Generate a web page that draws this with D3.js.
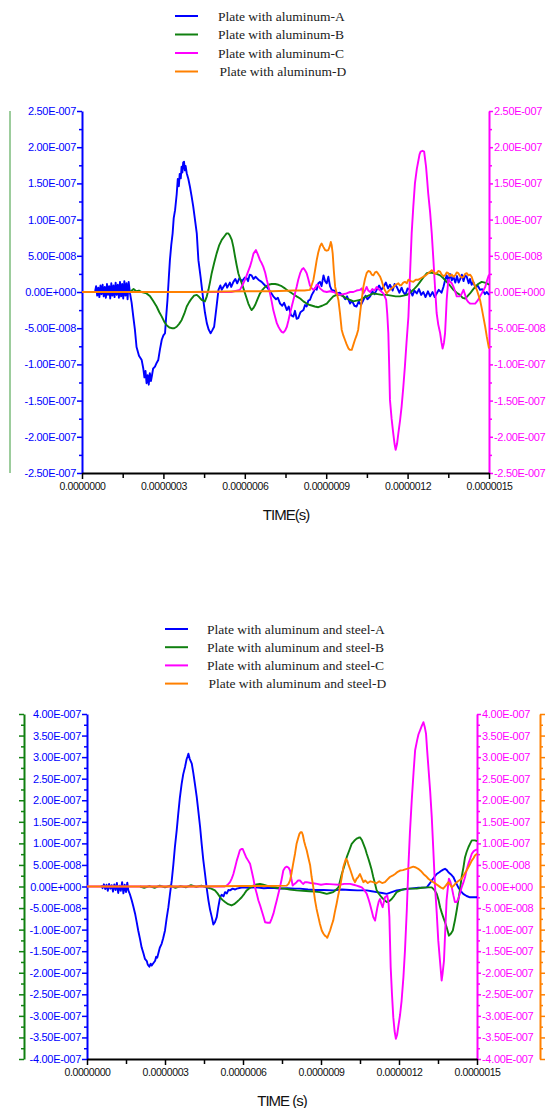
<!DOCTYPE html>
<html>
<head>
<meta charset="utf-8">
<script src="https://cdn.jsdelivr.net/npm/d3@7"></script>
<style>
  body { margin: 0; background: #fff; }
  svg text { font-family: Arial, "Liberation Sans", sans-serif; }
  svg text.legend { font-family: "Times New Roman", "Liberation Serif", serif; }
</style>
</head>
<body>
<svg id="chart" width="550" height="1108"></svg>
<script>
// time in units of 1e-7 s, amplitude in units of 1e-8
const T_UNIT = 1e-7;
const V_UNIT = 1e-8;

const xTickVals = [0, 3, 6, 9, 12, 15];
const xMinorVals = [1.5, 4.5, 7.5, 10.5, 13.5];
const yTicksTop = [-25, -20, -15, -10, -5, 0, 5, 10, 15, 20, 25];
const yTicksBottom = [-40, -35, -30, -25, -20, -15, -10, -5, 0, 5, 10, 15, 20, 25, 30, 35, 40];

const namesTop = ['Plate with aluminum-A', 'Plate with aluminum-B', 'Plate with aluminum-C', 'Plate with aluminum-D'];
const namesBottom = ['Plate with aluminum and steel-A', 'Plate with aluminum and steel-B', 'Plate with aluminum and steel-C', 'Plate with aluminum and steel-D'];
const colors = ['#0000ff', '#108010', '#ff00ff', '#ff8000'];

const alA = [[0.48,0],[0.52,0.8],[0.56,-0.5],[0.6,0.6],[0.64,-0.7],[0.68,0.9],[0.72,-0.3],[0.76,1.0],[0.8,-0.6],[0.84,0.7],[0.88,-0.8],[0.92,1.1],[0.96,-0.4],[1.0,0.8],[1.04,-0.9],[1.08,1.2],[1.12,-0.5],[1.16,0.9],[1.2,-0.7],[1.24,1.3],[1.28,-0.4],[1.32,1.0],[1.36,-0.8],[1.4,1.4],[1.44,-0.6],[1.48,1.1],[1.52,-0.9],[1.56,1.5],[1.6,-0.5],[1.64,1.2],[1.68,-1.0],[1.72,1.4],[1.77,-0.2],
  [1.83,-1.5],[1.89,-3.4],[1.95,-5.2],[2.01,-7.6],[2.1,-8.8],[2.2,-9.4],[2.26,-10.6],[2.3,-11.8],[2.34,-10.9],[2.38,-12.6],[2.42,-11.5],[2.46,-12.8],[2.5,-11.2],[2.54,-12.3],[2.57,-11.7],[2.62,-10.6],[2.69,-10.3],[2.75,-9.8],[2.81,-9.4],[2.87,-8.0],[2.94,-6.6],[3.0,-6.0],[3.06,-5.7],[3.1,-3.5],[3.15,-1.1],[3.2,2.0],[3.24,4.4],[3.29,6.5],[3.34,8.1],[3.38,10.2],[3.43,11.3],[3.49,13.5],[3.53,15.6],[3.57,14.6],[3.6,16.3],[3.64,15.7],[3.67,17.3],[3.7,16.5],[3.73,17.9],[3.76,18.0],[3.79,16.8],[3.82,17.4],[3.86,16.4],[3.92,15.6],[3.98,14.5],[4.04,13.2],[4.1,11.8],[4.16,10.1],[4.23,8.1],[4.29,4.4],[4.37,2.1],[4.42,0.5],[4.47,-1.1],[4.53,-2.8],[4.6,-4.3],[4.67,-5.2],[4.74,-5.7],[4.8,-5.3],[4.87,-4.8],[4.96,-2.0],[5.03,0.3],[5.1,0.9],[5.15,0.3],[5.21,0.7],[5.3,1.2],[5.35,0.6],[5.45,1.3],[5.5,0.7],[5.58,1.4],[5.65,1.8],[5.72,1.2],[5.8,1.9],[5.9,1.5],[6.0,2.0],[6.07,1.9],[6.12,1.5],[6.18,2.4],[6.25,2.3],[6.32,1.8],[6.4,2.1],[6.5,1.7],[6.62,1.4],[6.72,1.0],[6.81,0.7],[6.93,0.1],[7.05,-0.6],[7.15,-1.0],[7.22,-0.8],[7.3,-1.6],[7.38,-1.9],[7.45,-1.5],[7.55,-2.5],[7.62,-2.0],[7.7,-3.2],[7.79,-3.4],[7.85,-2.6],[7.91,-3.7],[7.97,-3.6],[8.05,-2.8],[8.16,-2.5],[8.22,-1.8],[8.28,-2.0],[8.34,-1.2],[8.4,-1.1],[8.47,-0.4],[8.53,0],[8.6,0.6],[8.65,0.3],[8.71,1.2],[8.77,1.4],[8.83,0.8],[8.9,2.3],[8.96,1.5],[9.02,1.2],[9.08,2.1],[9.14,0.8],[9.2,0.3],[9.3,0.2],[9.39,-0.2],[9.5,-0.1],[9.63,-0.6],[9.7,-1.0],[9.77,-0.6],[9.88,-1.6],[9.95,-1.2],[10.04,-1.9],[10.12,-2.0],[10.2,-1.3],[10.28,-1.8],[10.37,-1.1],[10.45,-0.5],[10.52,-1.0],[10.62,-0.6],[10.7,0.1],[10.78,-0.3],[10.86,0.3],[10.95,0.9],[11.03,0.3],[11.11,0.7],[11.2,1.3],[11.28,0.5],[11.35,1.0],[11.45,0.2],[11.52,1.1],[11.6,0.7],[11.7,-0.1],[11.78,0.6],[11.84,0],[11.92,-0.4],[12.0,0.5],[12.09,0.3],[12.18,-0.5],[12.25,0.2],[12.34,-0.2],[12.42,0.4],[12.5,-0.4],[12.58,0],[12.66,-0.7],[12.75,0.1],[12.83,-0.6],[12.92,0],[13.0,-0.7],[13.07,-0.2],[13.15,0.3],[13.25,-0.1],[13.32,0.7],[13.38,1.6],[13.44,2.3],[13.5,1.5],[13.56,2.5],[13.63,1.6],[13.69,2.1],[13.76,1.3],[13.82,2.2],[13.88,1.3],[13.93,1.7],[14.0,2.4],[14.06,1.5],[14.12,2.3],[14.18,2.1],[14.25,1.2],[14.3,1.8],[14.36,1.0],[14.42,1.4],[14.5,0.6],[14.58,0.9],[14.67,0.3],[14.75,0.4],[14.85,-0.3],[14.92,0],[15.0,-0.4]];

const alB = [[1.77,0],[1.9,0.4],[2.0,0.1],[2.1,0.2],[2.2,0],[2.38,-0.2],[2.51,-0.6],[2.62,-1.2],[2.75,-2.0],[2.85,-2.8],[2.94,-3.4],[3.03,-4.1],[3.12,-4.6],[3.22,-4.9],[3.31,-5.0],[3.4,-5.0],[3.49,-4.8],[3.58,-4.4],[3.67,-3.9],[3.77,-3.0],[3.86,-2.0],[3.95,-1.4],[4.04,-0.9],[4.13,-0.5],[4.23,-0.4],[4.32,-0.7],[4.41,-1.1],[4.53,-1.3],[4.6,-0.6],[4.66,0.3],[4.72,1.4],[4.78,2.6],[4.87,4.0],[4.96,5.3],[5.05,6.4],[5.15,7.2],[5.27,7.8],[5.33,8.1],[5.39,8.1],[5.45,7.8],[5.52,7.2],[5.58,6.2],[5.64,4.9],[5.7,3.7],[5.76,2.6],[5.83,1.8],[5.89,1.2],[5.95,0.5],[6.01,-0.2],[6.07,-0.9],[6.13,-1.6],[6.19,-2.1],[6.25,-2.5],[6.32,-2.2],[6.38,-1.8],[6.47,-1.0],[6.56,-0.2],[6.65,0.3],[6.75,0.7],[6.87,1.0],[6.99,1.1],[7.12,1.1],[7.24,1.0],[7.36,0.8],[7.48,0.5],[7.58,0.2],[7.67,0],[7.79,-0.3],[7.91,-0.6],[8.04,-0.9],[8.16,-1.3],[8.28,-1.6],[8.4,-1.8],[8.58,-2.0],[8.71,-2.1],[8.85,-1.9],[9.02,-1.6],[9.14,-1.1],[9.26,-0.6],[9.38,-0.4],[9.51,-0.4],[9.63,-0.6],[9.75,-0.9],[9.88,-1.1],[10.0,-1.3],[10.12,-1.2],[10.25,-1.1],[10.37,-0.8],[10.49,-0.6],[10.62,-0.4],[10.74,-0.2],[10.9,-0.3],[11.05,-0.4],[11.23,-0.4],[11.4,-0.5],[11.56,-0.6],[11.72,-0.6],[11.85,-0.5],[11.97,-0.4],[12.09,-0.1],[12.21,0.3],[12.34,0.8],[12.46,1.4],[12.58,2.0],[12.71,2.6],[12.83,2.7],[12.95,2.6],[13.07,2.5],[13.2,2.3],[13.32,1.9],[13.44,1.4],[13.56,0.9],[13.69,0.3],[13.81,-0.1],[13.93,-0.4],[14.03,-0.8],[14.12,-0.9],[14.2,-0.6],[14.3,-0.2],[14.4,0.3],[14.49,0.7],[14.6,1.1],[14.73,1.4],[14.85,1.3],[14.92,1.2],[15.0,1.0]];

const alC = [[0.0,0],[5.5,0],[5.82,0.3],[5.92,1.0],[6.01,1.7],[6.1,2.6],[6.19,3.5],[6.26,4.4],[6.32,5.3],[6.41,5.8],[6.48,5.2],[6.56,4.4],[6.62,4.0],[6.68,3.5],[6.75,2.7],[6.81,1.7],[6.87,0.8],[6.93,-0.2],[6.99,-1.3],[7.05,-2.5],[7.12,-3.5],[7.18,-4.3],[7.24,-4.8],[7.3,-5.2],[7.36,-5.5],[7.42,-5.6],[7.49,-5.3],[7.55,-4.8],[7.61,-3.9],[7.67,-2.9],[7.73,-2.0],[7.79,-1.1],[7.85,-0.2],[7.91,0.7],[7.97,1.7],[8.04,2.6],[8.1,3.1],[8.16,3.3],[8.22,3.0],[8.28,2.6],[8.34,1.8],[8.4,0.9],[8.47,0.5],[8.53,0.3],[8.59,0.5],[8.65,1.0],[8.71,0.9],[8.77,0.5],[8.9,0.1],[9.02,0],[9.14,0.1],[9.26,0],[9.38,-0.2],[9.51,-0.4],[9.63,-0.3],[9.75,-0.2],[9.88,0],[10.0,0],[10.12,0.2],[10.25,0.3],[10.31,0.5],[10.37,-0.2],[10.43,0.2],[10.49,0.7],[10.55,0.2],[10.62,0],[10.7,0.4],[10.78,0.2],[10.86,0.7],[10.93,0.4],[11.02,0.1],[11.11,-0.2],[11.21,-1.1],[11.25,-3.0],[11.29,-5.7],[11.32,-10.0],[11.35,-14.9],[11.41,-17.5],[11.47,-19.5],[11.52,-21.0],[11.56,-21.8],[11.61,-21.0],[11.66,-19.5],[11.72,-17.8],[11.78,-15.8],[11.84,-13.2],[11.9,-10.3],[11.96,-7.0],[12.03,-3.4],[12.09,2.5],[12.15,8.1],[12.21,11.8],[12.27,15.0],[12.34,17.0],[12.4,18.2],[12.44,19.0],[12.48,19.4],[12.55,19.5],[12.61,19.4],[12.68,17.3],[12.72,15.5],[12.76,13.6],[12.83,11.0],[12.89,8.1],[12.95,4.5],[13.01,0.7],[13.07,-2.9],[13.13,-4.5],[13.2,-5.7],[13.25,-7.0],[13.29,-7.8],[13.34,-7.0],[13.38,-5.7],[13.41,-3.5],[13.44,-1.1],[13.5,1.7],[13.56,1.4],[13.63,1.2],[13.69,0.7],[13.75,0.1],[13.81,-0.6],[13.87,-0.6],[13.93,-0.6],[14.0,-0.2],[14.06,0.3],[14.12,-0.4],[14.18,-1.1],[14.24,-1.4],[14.3,-1.6],[14.4,-1.6],[14.49,-1.6],[14.58,-1.2],[14.67,-0.6],[14.76,0],[14.86,0.7],[14.92,1.5],[15.0,2.4]];

const alD = [[0,0],[4.0,0],[6.0,0.1],[7.0,0.1],[7.8,0.2],[8.2,0.2],[8.4,0.3],[8.47,1.0],[8.53,1.7],[8.59,3.0],[8.65,4.4],[8.71,5.5],[8.77,6.3],[8.83,6.7],[8.9,6.2],[8.96,5.8],[9.02,5.7],[9.08,5.8],[9.13,6.3],[9.17,6.9],[9.2,6.5],[9.24,5.3],[9.28,3.0],[9.33,0.7],[9.39,-0.2],[9.45,-1.1],[9.51,-3.0],[9.57,-5.2],[9.63,-6.0],[9.69,-6.6],[9.75,-7.2],[9.82,-7.8],[9.88,-8.0],[9.94,-8.0],[10.0,-7.3],[10.06,-6.6],[10.12,-6.0],[10.18,-5.2],[10.25,-2.9],[10.31,-1.0],[10.37,0.7],[10.43,1.8],[10.49,2.6],[10.55,2.9],[10.62,2.8],[10.68,2.4],[10.74,2.3],[10.8,2.7],[10.86,2.8],[10.92,2.5],[10.99,2.1],[11.05,1.5],[11.11,0.7],[11.17,0.2],[11.23,-0.2],[11.29,0.1],[11.35,0.3],[11.41,0.5],[11.47,0.7],[11.56,1.0],[11.66,1.2],[11.72,0.9],[11.78,1.0],[11.84,1.3],[11.9,1.4],[11.97,1.2],[12.03,1.7],[12.12,1.5],[12.21,1.4],[12.3,1.7],[12.4,1.7],[12.49,1.9],[12.58,2.1],[12.67,2.3],[12.76,2.6],[12.83,2.8],[12.89,3.0],[12.95,2.8],[13.01,2.5],[13.07,2.6],[13.13,2.9],[13.2,2.8],[13.26,2.4],[13.32,2.2],[13.38,2.3],[13.44,2.7],[13.5,2.6],[13.56,2.2],[13.63,2.4],[13.69,2.1],[13.75,2.3],[13.81,2.7],[13.87,2.6],[13.93,2.2],[14.0,2.0],[14.06,2.1],[14.12,2.5],[14.18,2.6],[14.24,2.3],[14.3,2.4],[14.36,2.1],[14.42,1.4],[14.49,0.8],[14.55,0.3],[14.61,-0.4],[14.67,-1.1],[14.73,-2.2],[14.79,-3.4],[14.86,-4.8],[14.92,-6.2],[15.0,-7.8]];

const stA = [[0.56,0.3],[0.6,-0.4],[0.65,0.5],[0.7,-0.6],[0.75,0.4],[0.8,-1.0],[0.85,0.6],[0.9,-0.5],[0.95,0.3],[1.0,-1.2],[1.05,0.5],[1.1,-0.8],[1.15,0.8],[1.2,-1.5],[1.25,0.2],[1.3,-1.0],[1.35,1.0],[1.4,-1.6],[1.45,0.4],[1.5,-1.3],[1.55,0.9],[1.59,-0.9],
  [1.65,-1.8],[1.72,-3.2],[1.78,-4.6],[1.85,-6.3],[1.91,-8.2],[1.97,-10.2],[2.04,-12.2],[2.1,-14.1],[2.17,-15.5],[2.23,-16.8],[2.3,-17.3],[2.33,-18.0],[2.36,-18.3],[2.4,-18.6],[2.45,-17.9],[2.49,-18.3],[2.55,-17.8],[2.62,-17.2],[2.66,-16.3],[2.7,-16.5],[2.74,-15.6],[2.8,-14.2],[2.87,-13.3],[2.93,-12.0],[3.0,-10.2],[3.06,-7.5],[3.13,-4.8],[3.19,-1.8],[3.26,1.4],[3.32,5.0],[3.38,9.1],[3.45,13.0],[3.51,16.9],[3.57,20.5],[3.64,23.8],[3.7,26.0],[3.77,27.7],[3.83,29.5],[3.87,30.2],[3.9,30.8],[3.95,29.6],[4.03,28.5],[4.09,26.3],[4.15,23.8],[4.22,20.8],[4.28,17.6],[4.35,13.8],[4.41,9.9],[4.47,6.3],[4.54,2.9],[4.6,-0.2],[4.67,-3.2],[4.73,-5.3],[4.8,-7.1],[4.86,-8.8],[4.92,-8.3],[4.99,-7.1],[5.05,-4.8],[5.12,-2.5],[5.18,-1.9],[5.25,-2.3],[5.31,-1.3],[5.38,-1.6],[5.44,-0.8],[5.5,-0.9],[5.6,-0.5],[5.7,-0.7],[5.76,-0.5],[5.9,-0.3],[6.01,-0.2],[6.2,-0.3],[6.5,-0.2],[6.8,-0.4],[7.1,-0.3],[7.4,-0.5],[7.7,-0.4],[8.0,-0.5],[8.19,-0.5],[8.5,-0.7],[8.8,-0.8],[9.1,-0.8],[9.47,-0.9],[9.8,-0.7],[10.1,-0.8],[10.4,-0.9],[10.76,-0.9],[10.95,-1.1],[11.14,-1.3],[11.35,-1.5],[11.53,-1.7],[11.72,-1.3],[11.91,-0.9],[12.15,-0.7],[12.42,-0.5],[12.75,-0.3],[13.07,-0.2],[13.17,0.6],[13.26,1.4],[13.36,2.2],[13.45,2.9],[13.55,3.3],[13.64,3.7],[13.7,3.9],[13.77,4.1],[13.84,3.8],[13.9,3.3],[14.0,2.8],[14.09,2.2],[14.18,1.0],[14.28,-0.2],[14.37,-1.0],[14.47,-1.7],[14.6,-2.2],[14.73,-2.5],[14.85,-2.5],[15.0,-2.5]];

const stB = [[2.04,0],[2.2,-0.3],[2.4,0.1],[2.6,-0.3],[2.8,0.2],[3.0,-0.2],[3.2,0.2],[3.4,-0.3],[3.6,0.1],[3.8,-0.2],[4.0,0.3],[4.2,-0.1],[4.4,0.2],[4.6,-0.2],[4.73,-0.4],[4.82,-0.6],[4.92,-0.9],[5.02,-1.6],[5.12,-2.5],[5.21,-3.1],[5.31,-3.6],[5.43,-4.1],[5.56,-4.4],[5.66,-4.1],[5.76,-3.6],[5.85,-3.1],[5.95,-2.5],[6.05,-1.7],[6.14,-0.9],[6.27,-0.3],[6.4,0.2],[6.52,0.5],[6.65,0.6],[6.78,0.4],[6.91,0.2],[7.1,-0.1],[7.3,-0.3],[7.42,-0.4],[7.6,-0.5],[7.8,-0.7],[8.06,-0.9],[8.3,-1.0],[8.55,-1.1],[8.75,-1.2],[8.96,-1.3],[9.1,-1.5],[9.22,-1.7],[9.35,-1.5],[9.47,-1.3],[9.57,-0.8],[9.67,-0.2],[9.73,1.2],[9.8,2.9],[9.9,4.8],[9.99,6.8],[10.09,8.4],[10.18,9.9],[10.28,10.6],[10.37,11.1],[10.44,11.3],[10.5,11.4],[10.57,10.8],[10.63,9.9],[10.7,8.8],[10.76,7.6],[10.82,6.5],[10.88,5.3],[10.95,3.8],[11.01,2.2],[11.08,0.6],[11.14,-0.9],[11.24,-1.8],[11.33,-2.5],[11.43,-3.1],[11.53,-3.6],[11.62,-3.4],[11.72,-2.9],[11.82,-2.1],[11.91,-1.3],[12.1,-0.8],[12.3,-0.5],[12.5,-0.5],[12.68,-0.5],[12.88,-0.3],[13.07,-0.2],[13.26,-0.2],[13.36,-0.8],[13.45,-1.7],[13.52,-3.1],[13.58,-4.8],[13.64,-6.0],[13.7,-7.1],[13.77,-8.3],[13.83,-9.4],[13.88,-10.5],[13.92,-11.4],[14.0,-10.9],[14.07,-10.2],[14.15,-7.9],[14.22,-5.5],[14.28,-3.2],[14.35,-0.5],[14.41,2.2],[14.48,4.5],[14.54,6.8],[14.6,8.0],[14.67,9.1],[14.74,10.0],[14.8,10.7],[14.92,10.7],[15.0,10.5]];

const stC = [[0,0],[5.3,0],[5.37,0.2],[5.44,0.6],[5.5,1.0],[5.57,1.9],[5.63,2.9],[5.7,4.5],[5.76,6.0],[5.82,7.2],[5.88,8.4],[5.94,8.7],[5.99,8.7],[6.05,7.8],[6.12,6.8],[6.2,6.0],[6.27,5.3],[6.33,3.7],[6.4,1.8],[6.46,-0.2],[6.53,-1.7],[6.59,-3.2],[6.66,-4.4],[6.72,-5.6],[6.79,-7.0],[6.85,-8.3],[6.95,-8.4],[7.04,-8.4],[7.1,-7.5],[7.17,-6.3],[7.23,-4.8],[7.3,-3.2],[7.36,-1.7],[7.42,-0.2],[7.49,1.8],[7.55,3.7],[7.62,4.4],[7.68,4.6],[7.75,4.4],[7.81,3.7],[7.86,1.8],[7.91,0.2],[7.98,0.6],[8.06,1.0],[8.12,1.4],[8.19,1.4],[8.26,0.9],[8.32,0.6],[8.38,1.0],[8.45,1.0],[8.6,0.8],[8.75,0.7],[8.85,0.6],[9.0,0.4],[9.2,0.6],[9.47,0.5],[9.7,0.4],[9.9,0.6],[10.12,0.6],[10.25,0.4],[10.37,0.2],[10.47,0],[10.57,-0.2],[10.66,-0.8],[10.76,-1.7],[10.82,-2.8],[10.88,-4.0],[10.95,-5.6],[11.01,-7.1],[11.08,-7.9],[11.12,-6.5],[11.17,-4.8],[11.22,-3.5],[11.27,-2.9],[11.32,-4.0],[11.37,-4.8],[11.42,-3.5],[11.46,-2.5],[11.55,-2.1],[11.6,-4.0],[11.63,-7.1],[11.68,-18.7],[11.73,-25.0],[11.78,-30.3],[11.83,-33.5],[11.88,-35.3],[11.93,-34.3],[11.97,-32.6],[12.04,-29.8],[12.1,-26.5],[12.17,-21.0],[12.23,-14.8],[12.3,-5.5],[12.36,4.5],[12.42,12.5],[12.49,20.0],[12.56,26.5],[12.62,31.6],[12.7,34.0],[12.75,35.3],[12.81,36.2],[12.88,37.3],[12.94,38.1],[12.99,37.0],[13.04,35.4],[13.08,31.8],[13.13,27.7],[13.2,22.0],[13.26,16.1],[13.32,8.5],[13.38,0.6],[13.45,-6.0],[13.51,-12.5],[13.58,-17.5],[13.64,-21.8],[13.68,-20.0],[13.73,-17.2],[13.78,-10.0],[13.83,-3.2],[13.88,-0.2],[13.92,1.8],[13.97,1.2],[14.03,-0.2],[14.09,-2.0],[14.15,-3.6],[14.22,-3.6],[14.28,-2.9],[14.35,-1.5],[14.41,-0.2],[14.48,1.0],[14.54,2.2],[14.6,3.8],[14.67,5.3],[14.74,6.5],[14.8,7.6],[14.86,8.1],[14.92,8.4],[15.0,8.6]];

const stD = [[0,0],[4.0,0],[6.0,0.1],[7.0,0.1],[7.68,0.2],[7.75,0.6],[7.81,1.4],[7.87,3.2],[7.93,5.3],[8.0,7.6],[8.06,9.9],[8.12,11.2],[8.17,12.2],[8.22,12.6],[8.26,12.6],[8.3,12.0],[8.35,10.5],[8.4,9.4],[8.45,8.4],[8.51,6.8],[8.58,5.0],[8.64,2.2],[8.7,0],[8.77,-3.2],[8.83,-5.2],[8.9,-7.1],[8.96,-8.7],[9.03,-10.2],[9.09,-10.9],[9.15,-11.4],[9.2,-11.6],[9.24,-11.9],[9.3,-11.0],[9.35,-10.2],[9.41,-9.0],[9.47,-7.9],[9.53,-6.0],[9.6,-4.0],[9.66,-2.1],[9.73,-0.2],[9.8,2.2],[9.86,4.5],[9.91,5.5],[9.96,6.4],[10.01,6.0],[10.05,5.2],[10.12,4.0],[10.18,2.9],[10.24,1.8],[10.31,1.0],[10.37,1.8],[10.43,2.2],[10.5,2.9],[10.56,2.0],[10.63,1.0],[10.7,1.4],[10.8,0.8],[10.9,1.2],[11.01,1.0],[11.12,0.7],[11.24,1.2],[11.35,0.8],[11.46,1.0],[11.55,1.6],[11.65,2.2],[11.75,2.5],[11.85,2.9],[11.95,3.4],[12.04,3.7],[12.15,3.8],[12.3,4.1],[12.42,4.3],[12.55,4.6],[12.65,4.4],[12.74,4.1],[12.84,3.6],[12.94,2.9],[13.04,2.4],[13.13,1.8],[13.22,1.4],[13.32,1.0],[13.42,0.6],[13.51,0.2],[13.6,-0.2],[13.7,-0.5],[13.8,0.2],[13.9,1.0],[13.97,0.4],[14.03,-0.2],[14.12,0.3],[14.22,1.0],[14.31,1.4],[14.41,1.8],[14.5,2.7],[14.6,3.7],[14.7,4.8],[14.8,6.0],[14.87,6.6],[14.92,7.2],[15.0,7.6]];

const svg = d3.select('#chart');

function fmtY(v) {
  if (v === 0) return '0.00E+000';
  const parts = v.toExponential(2).split('e');
  const e = parseInt(parts[1], 10);
  const sign = e < 0 ? '-' : '+';
  return parts[0] + 'E' + sign + String(Math.abs(e)).padStart(3, '0');
}
const fmtX = v => v.toFixed(7);

function styleAxis(g, color, width) {
  g.select('.domain').attr('stroke', color).attr('stroke-width', width);
  g.selectAll('.tick line').attr('stroke', color).attr('stroke-width', 1.5);
  g.selectAll('.tick text').attr('fill', color);
}

function drawPanel(cfg) {
  const x = d3.scaleLinear().domain([0, 15 * T_UNIT]).range([cfg.left, cfg.right]);
  const y = d3.scaleLinear().domain([-cfg.yMax * V_UNIT, cfg.yMax * V_UNIT]).range([cfg.bottom, cfg.top]);
  const majors = cfg.yTicks.map(d => d * V_UNIT);
  const minors = cfg.yTicks.slice(1).map(d => (d - 2.5) * V_UNIT);

  // extra (unlabelled) axes
  if (cfg.greenAxis) {
    const gg = svg.append('g').attr('transform', `translate(${cfg.greenAxis.x},0)`);
    if (cfg.greenAxis.ticks) {
      gg.call(d3.axisLeft(y).tickValues(majors).tickSize(5).tickSizeOuter(0).tickFormat(''));
      gg.append('g').call(d3.axisLeft(y).tickValues(minors).tickSize(3).tickSizeOuter(0).tickFormat(''))
        .call(g => g.select('.domain').remove());
      styleAxis(gg, colors[1], 2);
      gg.selectAll('.tick line').attr('stroke', colors[1]);
    } else {
      gg.append('line').attr('x1', 0).attr('x2', 0)
        .attr('y1', y(majors[majors.length - 1])).attr('y2', y(majors[0]))
        .attr('stroke', '#3a9a3a').attr('stroke-width', 1);
    }
  }
  if (cfg.orangeAxis) {
    const go = svg.append('g').attr('transform', `translate(${cfg.orangeAxis.x},0)`);
    go.call(d3.axisRight(y).tickValues(majors).tickSize(5).tickSizeOuter(0).tickFormat(''));
    go.append('g').call(d3.axisRight(y).tickValues(minors).tickSize(3).tickSizeOuter(0).tickFormat(''))
      .call(g => g.select('.domain').remove());
    styleAxis(go, colors[3], 2);
    go.selectAll('.tick line').attr('stroke', colors[3]);
  }

  // left axis (blue)
  const gl = svg.append('g').attr('transform', `translate(${cfg.left},0)`);
  gl.call(d3.axisLeft(y).tickValues(majors).tickSize(5).tickSizeOuter(0).tickPadding(1).tickFormat(fmtY));
  gl.append('g').call(d3.axisLeft(y).tickValues(minors).tickSize(3).tickSizeOuter(0).tickFormat(''))
    .call(g => g.select('.domain').remove());
  styleAxis(gl, colors[0], 2);
  gl.selectAll('.tick line').attr('stroke', colors[0]);
  gl.selectAll('.tick text').attr('font-size', 11).attr('letter-spacing', -0.3);

  // right axis (magenta)
  const gr = svg.append('g').attr('transform', `translate(${cfg.right},0)`);
  gr.call(d3.axisRight(y).tickValues(majors).tickSize(4).tickSizeOuter(0).tickPadding(1).tickFormat(fmtY));
  gr.append('g').call(d3.axisRight(y).tickValues(minors).tickSize(3).tickSizeOuter(0).tickFormat(''))
    .call(g => g.select('.domain').remove());
  styleAxis(gr, colors[2], 2);
  gr.selectAll('.tick line').attr('stroke', colors[2]);
  gr.selectAll('.tick text').attr('font-size', 11).attr('letter-spacing', -0.3);

  // x axis
  const gx = svg.append('g').attr('transform', `translate(0,${cfg.bottom})`);
  gx.call(d3.axisBottom(x).tickValues(xTickVals.map(d => d * T_UNIT)).tickSize(6).tickSizeOuter(0).tickPadding(4).tickFormat(fmtX));
  gx.append('g').call(d3.axisBottom(x).tickValues(xMinorVals.map(d => d * T_UNIT)).tickSize(5).tickSizeOuter(0).tickFormat(''))
    .call(g => g.select('.domain').remove());
  styleAxis(gx, '#000', 2);
  gx.selectAll('.tick line').attr('stroke', '#000');
  gx.selectAll('.tick text').attr('fill', '#111').attr('font-size', 10.5).attr('letter-spacing', -0.4);

  svg.append('text')
    .attr('x', cfg.titleX).attr('y', cfg.bottom + 47)
    .attr('text-anchor', 'middle')
    .attr('font-size', 15).attr('letter-spacing', -1)
    .attr('fill', '#111')
    .text(cfg.xTitle);

  // series
  const line = d3.line().x(d => x(d[0] * T_UNIT)).y(d => y(d[1] * V_UNIT));
  cfg.series.forEach((s, i) => {
    svg.append('path').datum(s)
      .attr('fill', 'none')
      .attr('stroke', colors[i])
      .attr('stroke-width', 1.9)
      .attr('stroke-linejoin', 'round')
      .attr('d', line);
  });

  // legend
  const lg = svg.append('g');
  cfg.names.forEach((n, i) => {
    const ly = cfg.legend.y + i * cfg.legend.dy;
    lg.append('line').attr('x1', cfg.legend.x).attr('x2', cfg.legend.x + 23)
      .attr('y1', ly).attr('y2', ly)
      .attr('stroke', colors[i]).attr('stroke-width', 2);
    lg.append('text').attr('class', 'legend')
      .attr('x', cfg.legend.tx + (i === 3 ? 1.5 : 0)).attr('y', ly + 4.5)
      .attr('font-size', 13.5).attr('fill', '#222')
      .text(n);
  });
}

drawPanel({
  left: 82, right: 489, top: 111, bottom: 473,
  yMax: 25, yTicks: yTicksTop,
  series: [alA, alB, alC, alD], names: namesTop,
  greenAxis: { x: 10, ticks: false },
  xTitle: 'TIME(s)', titleX: 286,
  legend: { x: 175, tx: 218, y: 16, dy: 18.5 }
});

drawPanel({
  left: 87, right: 477, top: 714, bottom: 1059,
  yMax: 40, yTicks: yTicksBottom,
  series: [stA, stB, stC, stD], names: namesBottom,
  greenAxis: { x: 24, ticks: true },
  orangeAxis: { x: 540 },
  xTitle: 'TIME (s)', titleX: 282,
  legend: { x: 165, tx: 207, y: 629, dy: 18.2 }
});
</script>
</body>
</html>
